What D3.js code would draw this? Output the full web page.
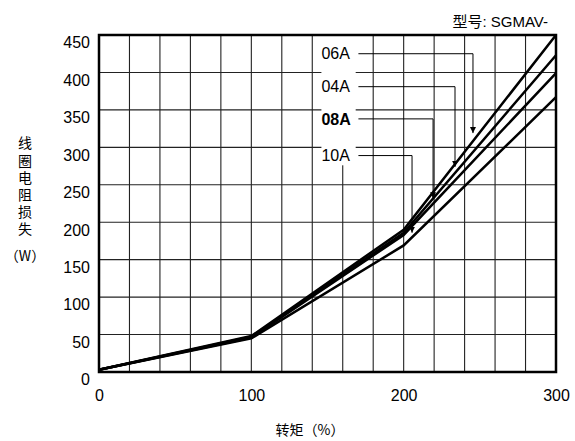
<!DOCTYPE html>
<html>
<head>
<meta charset="utf-8">
<script src="https://cdn.jsdelivr.net/npm/d3@7"></script>
<style>
  html, body { margin: 0; padding: 0; background: #fff; }
  svg { display: block; }
  svg text { font-family: "Liberation Sans", "Noto Sans CJK SC", sans-serif; fill: #000; }
  svg text.cjk { font-family: "Noto Sans CJK SC", sans-serif; }
  svg text.mixed { font-family: "Liberation Sans", "Noto Sans CJK SC", sans-serif; }
</style>
</head>
<body>
<svg id="chart" width="575" height="441"></svg>
<script>
// ---- data ----
const torque = [0, 100, 200, 300];
const loss06A = [3, 48, 190, 450];
const loss04A = [3, 47, 186, 423];
const loss08A = [3, 46, 183, 399];
const loss10A = [3, 45, 169, 367];
const seriesNames = ["06A", "04A", "08A", "10A"];
const xTickValues = [0, 100, 200, 300];
const yTickValues = [0, 50, 100, 150, 200, 250, 300, 350, 400, 450];
const xGridValues = d3.range(0, 301, 20);
const yGridValues = d3.range(0, 451, 50);
// annotation: label row (W), arrow column (%), arrow tip (W)
const labelRowW = [425, 381, 338, 289];
const arrowColPct = [245.5, 233.7, 219.3, 205.5];
const arrowTipW = [319, 274, 232, 186];
const labelLeftPct = 146;
const labelBoxPct = [146, 168.5];
const labelBoxW = [449, 276];

const xTitle = "转矩（%）";
const yTitle = "线圈电阻损失";
const yUnit = "（W）";
const modelTitle = "型号: SGMAV-";

// ---- layout ----
const svg = d3.select("#chart");
const x = d3.scaleLinear().domain([0, 300]).range([99, 556]);
const y = d3.scaleLinear().domain([0, 450]).range([372, 35]);

// grid
const grid = svg.append("g");
grid.selectAll("line.v").data(xGridValues).join("line")
  .attr("x1", d => x(d)).attr("x2", d => x(d))
  .attr("y1", y(0)).attr("y2", y(450))
  .attr("stroke", "#222").attr("stroke-width", 1.1);
grid.selectAll("line.h").data(yGridValues).join("line")
  .attr("x1", x(0)).attr("x2", x(300))
  .attr("y1", d => y(d)).attr("y2", d => y(d))
  .attr("stroke", "#222").attr("stroke-width", 1.1);

// white box behind labels
svg.append("rect")
  .attr("x", x(labelBoxPct[0])).attr("y", y(labelBoxW[0]))
  .attr("width", x(labelBoxPct[1]) - x(labelBoxPct[0]))
  .attr("height", y(labelBoxW[1]) - y(labelBoxW[0]))
  .attr("fill", "#fff");

// curves
const allSeries = [loss06A, loss04A, loss08A, loss10A];
const line = d3.line().x((d, i) => x(torque[i])).y(d => y(d));
svg.append("g").selectAll("path").data(allSeries).join("path")
  .attr("d", d => line(d))
  .attr("fill", "none").attr("stroke", "#000").attr("stroke-width", 2.5)
  .attr("stroke-linejoin", "miter");

// annotations
svg.append("defs").append("marker")
  .attr("id", "arrow").attr("viewBox", "0 0 6 10")
  .attr("refX", 6).attr("refY", 5)
  .attr("markerWidth", 6).attr("markerHeight", 10)
  .attr("markerUnits", "userSpaceOnUse")
  .attr("orient", "auto")
  .append("path").attr("d", "M0,2 L6,5 L0,8 Z").attr("fill", "#000");

const ann = svg.append("g");
seriesNames.forEach((name, i) => {
  const ly = y(labelRowW[i]);
  ann.append("text")
    .attr("x", x(labelLeftPct)).attr("y", ly).attr("dy", "0.36em")
    .attr("font-size", 16)
    .attr("font-weight", name === "08A" ? "bold" : "normal")
    .text(name);
  ann.append("path")
    .attr("d", `M${x(labelLeftPct) + 37},${ly} H${x(arrowColPct[i])} V${y(arrowTipW[i])}`)
    .attr("fill", "none").attr("stroke", "#000").attr("stroke-width", 1)
    .attr("marker-end", "url(#arrow)");
});

// border
svg.append("rect")
  .attr("x", x(0)).attr("y", y(450))
  .attr("width", x(300) - x(0)).attr("height", y(0) - y(450))
  .attr("fill", "none").attr("stroke", "#000").attr("stroke-width", 2.5);

// axes (labels only)
const xAxis = svg.append("g").attr("transform", `translate(0,${y(0)})`)
  .call(d3.axisBottom(x).tickValues(xTickValues).tickSize(0).tickPadding(18).tickFormat(d3.format("d")));
xAxis.select(".domain").remove();
xAxis.attr("font-family", null);
xAxis.selectAll("text").attr("font-size", 16);

const yAxis = svg.append("g").attr("transform", `translate(${x(0)},0)`)
  .call(d3.axisLeft(y).tickValues(yTickValues).tickSize(0).tickPadding(9).tickFormat(d3.format("d")));
yAxis.select(".domain").remove();
yAxis.attr("font-family", null);
yAxis.selectAll("text").attr("font-size", 16).attr("dy", "0.8em");

// titles
svg.append("text").attr("class", "cjk")
  .attr("x", 310).attr("y", 435)
  .attr("text-anchor", "middle").attr("font-size", 14)
  .text(xTitle);

svg.append("text").attr("class", "cjk")
  .attr("x", 25).attr("y", 136)
  .attr("font-size", 14)
  .style("writing-mode", "vertical-rl")
  .style("letter-spacing", "3.2px")
  .text(yTitle);
svg.append("text").attr("class", "cjk").attr("x", 25).attr("y", 256).attr("dy", "0.36em")
  .attr("text-anchor", "middle").attr("font-size", 14).text(yUnit);

svg.append("text").attr("class", "mixed")
  .attr("x", 548).attr("y", 22).attr("dy", "0.36em")
  .attr("text-anchor", "end").attr("font-size", 15)
  .text(modelTitle);
</script>
</body>
</html>
